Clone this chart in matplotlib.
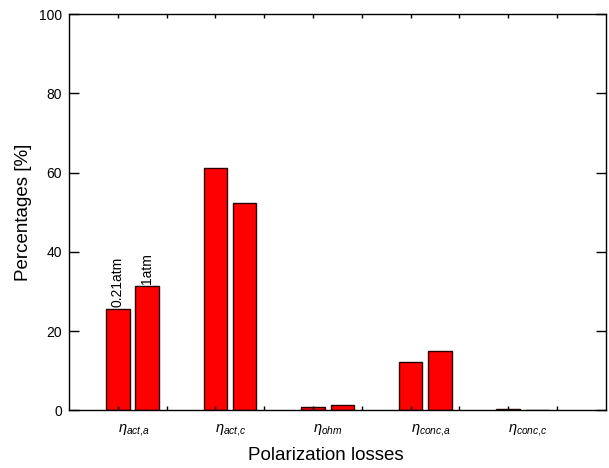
import matplotlib
matplotlib.use("Agg")
import matplotlib.pyplot as plt
import matplotlib.transforms as mtransforms
import numpy as np

plt.rcParams['font.family'] = ['Liberation Sans', 'DejaVu Sans']
plt.rcParams['mathtext.fontset'] = 'custom'
plt.rcParams['mathtext.rm'] = 'Liberation Sans'
plt.rcParams['mathtext.it'] = 'Liberation Sans:italic'
plt.rcParams['mathtext.bf'] = 'Liberation Sans:bold'

categories = [r'$\eta_{act{,}a}$', r'$\eta_{act{,}c}$', r'$\eta_{ohm}$', r'$\eta_{conc{,}a}$', r'$\eta_{conc{,}c}$']
series_names = ['0.21atm', '1atm']
values_021atm = [25.5, 61.1, 1.0, 12.3, 0.3]
values_1atm = [31.4, 52.4, 1.4, 15.0, 0.0]
yticks = [0, 20, 40, 60, 80, 100]

fig = plt.figure(figsize=(6.09, 4.68), dpi=100)
ax = fig.add_axes([0.1133, 0.1229, 0.9946 - 0.1133, 0.970 - 0.1229])

x = np.arange(1, len(categories) + 1)
w = 0.24
off = 0.3
ax.bar(x, values_021atm, width=w, color='#ff0000', edgecolor='#2a0000', linewidth=1.0)
ax.bar(x + off, values_1atm, width=w, color='#ff0000', edgecolor='#2a0000', linewidth=1.0)

ax.text(x[0], values_021atm[0] + 0.6, series_names[0], rotation=90, ha='center', va='bottom', fontsize=10)
ax.text(x[0] + off, values_1atm[0] + 0.6, series_names[1], rotation=90, ha='center', va='bottom', fontsize=10)

ax.set_xlim(0.5, 6.0)
ax.set_ylim(0, 100)
ax.set_yticks(yticks)
ax.set_yticklabels([str(v) for v in yticks], fontsize=10)
ax.set_xticks(x)
ax.set_xticklabels(categories, fontsize=10.5)
ax.set_xticks(np.arange(1.5, 6.0, 1.0), minor=True)

ax.tick_params(axis='y', which='major', direction='in', length=7, width=1, right=True, pad=5)
ax.tick_params(axis='x', which='both', direction='in', length=3, width=1, top=True, pad=8)

shift = mtransforms.ScaledTranslation(0 / 100, 0, fig.dpi_scale_trans)
for lab in ax.get_xticklabels():
    lab.set_horizontalalignment('left')
    lab.set_transform(lab.get_transform() + shift)

for s in ax.spines.values():
    s.set_linewidth(1.0)

ax.set_ylabel('Percentages [%]', fontsize=13.5)
ax.yaxis.set_label_coords(-0.069, 0.5)
ax.set_xlabel('Polarization losses', fontsize=13.5)
ax.xaxis.set_label_coords(0.479, -0.093)

fig.savefig('out.png', dpi=100)
